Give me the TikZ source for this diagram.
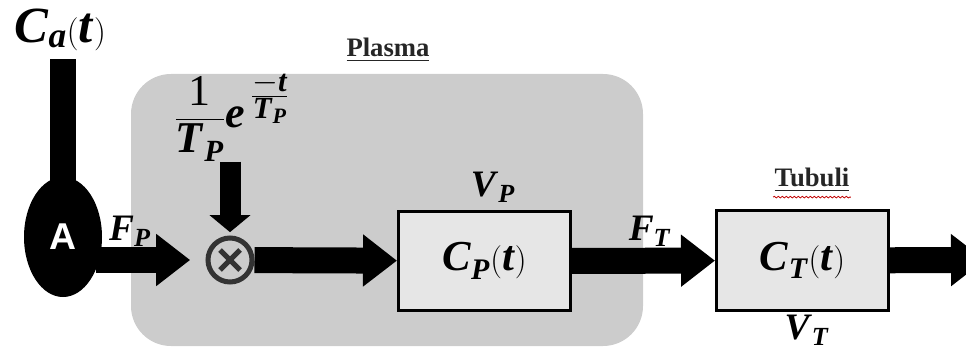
\documentclass[tikz,border=0pt]{standalone}
\usepackage{amsmath}
\usepackage{fontspec}
\setmainfont{Liberation Serif}
\setsansfont{Liberation Sans}
\usetikzlibrary{arrows.meta,shapes.geometric,decorations.pathmorphing}
\definecolor{plasmagray}{HTML}{CCCCCC}
\definecolor{boxgray}{HTML}{E6E6E6}
\definecolor{multgray}{HTML}{333333}
\newcommand{\vb}[1]{\textbf{\textit{#1}}}
\tikzset{
  fatarrow/.style={line width=19.5pt,-{Triangle[length=25.5pt,width=37.5pt]}},
  downarrow/.style={line width=15.75pt,-{Triangle[length=12.75pt,width=30pt]}},
  bigmath/.style={inner sep=0pt,font=\fontsize{28}{32}\selectfont},
  block/.style={draw,line width=2.25pt,fill=boxgray,minimum width=129pt,minimum height=74.5pt,inner sep=0pt,font=\fontsize{32}{36}\selectfont},
  title/.style={inner sep=1pt,font=\fontsize{20}{24}\selectfont\bfseries,text=black!85}
}

\begin{document}
\begin{tikzpicture}[x=0.75pt,y=-0.75pt]
\path[use as bounding box] (0,0) rectangle (966,353);
% plasma compartment
\fill[plasmagray,rounded corners=30pt] (131,74) rectangle (643,346);
\node[title] (plasma) at (388,50) {\underline{Plasma}};
\node[title] (tubuli) at (812,180) {\underline{Tubuli}};
\draw[red!75!black,line width=0.6pt,decorate,decoration={snake,amplitude=0.6pt,segment length=3pt}]
  ([yshift=-2.5pt]tubuli.south west) -- ([yshift=-2.5pt]tubuli.south east);
% input and pump
\node[inner sep=0pt,font=\fontsize{38}{42}\selectfont] (ca) at (60,30) {$\vb{C}_{\vb{a}}(\vb{t})$};
\node[ellipse,fill=black,minimum width=58.5pt,minimum height=90pt,inner sep=0pt,text=white,
  font=\fontsize{28}{32}\selectfont\sffamily\bfseries] (pump) at (63,237) {A};
\draw[line width=20pt,shorten >=-9pt] ([yshift=-6pt]pump.north |- ca.south) -- (pump.north);
% kernel and multiplier
\node[inner sep=0pt,font=\fontsize{33}{38}\selectfont] (kernel) at (232,117)
  {$\dfrac{\text{1}}{\vb{T}_{\vb{P}}}\vb{e}^{\,\frac{\scriptstyle -\vb{t}}{\scriptstyle \vb{T}_{\vb{P}}}}$};
\node[circle,draw=multgray,line width=3.75pt,minimum size=33pt,inner sep=0pt] (mult) at (230,260) {};
\draw[multgray,line width=3.75pt] ([shift={(-7.5pt,-7.5pt)}]mult.center) -- ([shift={(7.5pt,7.5pt)}]mult.center)
  ([shift={(-7.5pt,7.5pt)}]mult.center) -- ([shift={(7.5pt,-7.5pt)}]mult.center);
% compartments
\node[block] (cp) at (484.5,261) {$\vb{C}_{\vb{P}}(\vb{t})$};
\node[block] (ct) at (802.5,260.5) {$\vb{C}_{\vb{T}}(\vb{t})$};
\coordinate (exit) at (985,260);
% flows
\draw[fatarrow,shorten >=11.5pt] ([xshift=-5pt]pump.east |- mult) -- (mult);
\draw[downarrow,shorten >=2.5pt] (mult |- kernel.south) -- (mult);
\draw[fatarrow] (mult) -- (cp);
\draw[fatarrow] (cp) -- (ct);
\draw[fatarrow] (ct) -- (exit);
% labels
\node[bigmath] (fp) at (130,231) {$\vb{F}_{\vb{P}}$};
\node[bigmath] (ft) at (650,231) {$\vb{F}_{\vb{T}}$};
\node[bigmath] (vp) at (493,187) {$\vb{V}_{\vb{P}}$};
\node[bigmath] (vt) at (807,330) {$\vb{V}_{\vb{T}}$};
\end{tikzpicture}
\end{document}
